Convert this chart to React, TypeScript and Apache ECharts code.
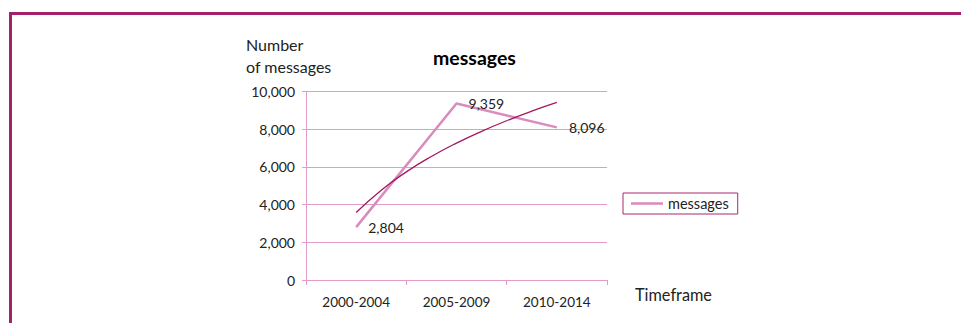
import React, { useEffect, useRef } from "react";
import * as echarts from "echarts";

const categories = ["2000-2004", "2005-2009", "2010-2014"];
const messages = [2804, 9359, 8096];
// trendline points (x in category units 1..3)
const trendX = [1, 1.25, 1.5, 1.75, 2, 2.25, 2.5, 2.75, 3];
const trendY = [3580, 4765, 5735, 6553, 7263, 7889, 8449, 8956, 9418];
const yTicks = { min: 0, max: 10000, interval: 2000 };

const FONT = "Lato, 'Open Sans', sans-serif";

export default function App() {
  const ref = useRef<HTMLDivElement>(null);
  useEffect(() => {
    if (!ref.current) return;
    const chart = echarts.init(ref.current, null, { renderer: "svg" });
    chart.setOption({
      animation: false,
      backgroundColor: "#ffffff",
      textStyle: { fontFamily: FONT },
      grid: { left: 306, right: 354, top: 91.5, bottom: 43, containLabel: false },
      legend: {
        data: [{ name: "messages", icon: "path://M0,0 L32,0 L32,2.5 L0,2.5 Z" }],
        left: 623,
        top: 193,
        orient: "vertical",
        borderColor: "#a8276e",
        borderWidth: 1,
        padding: [3, 9, 3, 8],
        itemWidth: 32,
        itemHeight: 14,
        itemGap: 5,
        textStyle: { fontFamily: FONT, fontSize: 14.5, color: "#222" },
      },
      xAxis: [
        {
          type: "category",
          data: categories,
          boundaryGap: true,
          axisLine: { lineStyle: { color: "#e29ccb", width: 1 } },
          axisTick: { show: true, length: 5, lineStyle: { color: "#e29ccb" } },
          axisLabel: { fontFamily: FONT, fontSize: 13.5, color: "#222", margin: 15 },
        },
        {
          type: "value",
          min: 0.5,
          max: 3.5,
          show: false,
        },
      ],
      yAxis: {
        type: "value",
        min: yTicks.min,
        max: yTicks.max,
        interval: yTicks.interval,
        axisLine: { show: true, lineStyle: { color: "#e29ccb", width: 1 } },
        axisTick: { show: true, length: 4, lineStyle: { color: "#e29ccb" } },
        splitLine: { lineStyle: { color: "#e29ccb", width: 1 } },
        axisLabel: {
          fontFamily: FONT,
          fontSize: 14,
          color: "#222",
          margin: 11,
          formatter: (v: number) => v.toLocaleString("en-US"),
        },
      },
      series: [
        {
          name: "messages",
          type: "line",
          data: messages,
          symbol: "circle",
          symbolSize: 0.1,
          showSymbol: true,
          lineStyle: { color: "#d98abe", width: 2.5 },
          itemStyle: { color: "#d98abe" },
          label: {
            show: true,
            position: "right",
            distance: 12,
            fontFamily: FONT,
            fontSize: 14,
            color: "#222",
            formatter: (p: any) => Number(p.value).toLocaleString("en-US"),
          },
          z: 2,
        },
        {
          name: "trend",
          type: "line",
          xAxisIndex: 1,
          data: trendX.map((x, i) => [x, trendY[i]]),
          symbol: "none",
          smooth: true,
          lineStyle: { color: "#a3185f", width: 1.3 },
          itemStyle: { color: "#a3185f" },
          z: 3,
        },
      ],
      graphic: [
        {
          type: "rect",
          shape: { x: 9, y: 12, width: 952, height: 3 },
          style: { fill: "#a3206a" },
          silent: true,
        },
        {
          type: "rect",
          shape: { x: 9, y: 12, width: 3, height: 311 },
          style: { fill: "#a3206a" },
          silent: true,
        },
        {
          type: "text",
          left: 433,
          top: 47,
          style: {
            text: "messages",
            fontFamily: FONT,
            fontSize: 19.5,
            fontWeight: "bold",
            fill: "#000",
          },
        },
        {
          type: "text",
          left: 246,
          top: 33,
          style: {
            text: "Number\nof messages",
            fontFamily: FONT,
            fontSize: 16,
            lineHeight: 22.5,
            fill: "#222",
          },
        },
        {
          type: "text",
          left: 635,
          top: 286,
          style: {
            text: "Timeframe",
            fontFamily: FONT,
            fontSize: 16.3,
            fill: "#222",
          },
        },
      ],
    });
    return () => chart.dispose();
  }, []);
  return (
    <div
      ref={ref}
      style={{ position: "fixed", left: 0, top: 0, width: 961, height: 323 }}
    />
  );
}
